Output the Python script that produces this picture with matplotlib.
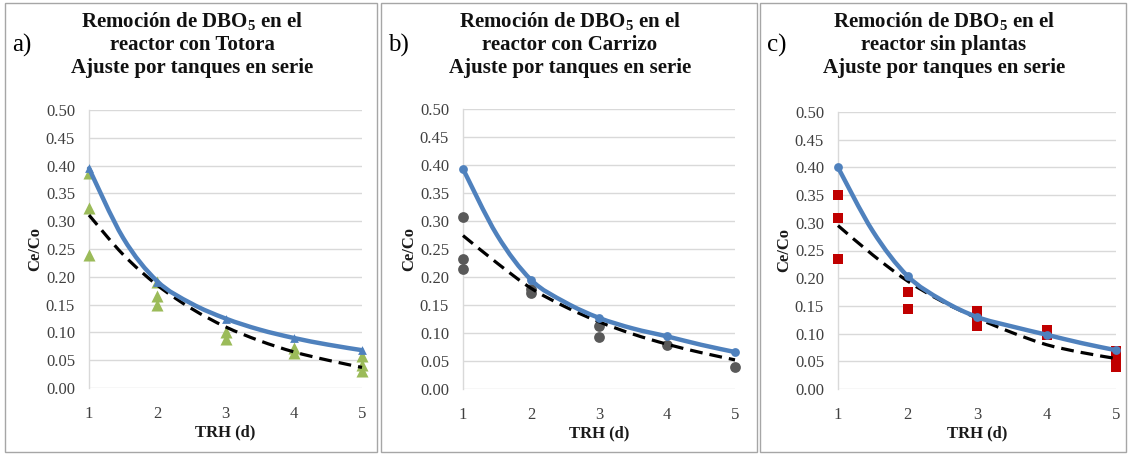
import matplotlib
matplotlib.use("Agg")
import matplotlib.pyplot as plt
from matplotlib.path import Path
from matplotlib.patches import PathPatch, Rectangle
import numpy as np

plt.rcParams['font.family'] = ['Liberation Serif', 'DejaVu Serif']
plt.rcParams['mathtext.fontset'] = 'custom'
plt.rcParams['mathtext.rm'] = 'Liberation Serif:bold'
plt.rcParams['mathtext.bf'] = 'Liberation Serif:bold'

# ---------------- data ----------------
trh = [1, 2, 3, 4, 5]
y_ticks = [0.00, 0.05, 0.10, 0.15, 0.20, 0.25, 0.30, 0.35, 0.40, 0.45, 0.50]

panel_letters = ["a)", "b)", "c)"]
titles = [
    ["Remoción de DBO$_{5}$ en el", "reactor con Totora", "Ajuste por tanques en serie"],
    ["Remoción de DBO$_{5}$ en el", "reactor con Carrizo", "Ajuste por tanques en serie"],
    ["Remoción de DBO$_{5}$ en el", "reactor sin plantas", "Ajuste por tanques en serie"],
]

# fitted model (solid blue) markers at each TRH
model_totora = [0.395, 0.190, 0.125, 0.090, 0.068]
model_carrizo = [0.393, 0.195, 0.127, 0.094, 0.066]
model_sin = [0.400, 0.204, 0.130, 0.098, 0.070]

# curves at half-day steps
curve_x = [1, 1.5, 2, 2.5, 3, 3.5, 4, 4.5, 5]
blue_totora = [0.395, 0.270, 0.192, 0.152, 0.125, 0.105, 0.090, 0.078, 0.068]
blue_carrizo = [0.393, 0.275, 0.195, 0.155, 0.127, 0.108, 0.094, 0.079, 0.066]
blue_sin = [0.400, 0.285, 0.204, 0.160, 0.130, 0.113, 0.098, 0.083, 0.070]

dashed_totora = [0.311, 0.240, 0.185, 0.143, 0.110, 0.085, 0.065, 0.050, 0.037]
dashed_carrizo = [0.274, 0.225, 0.180, 0.147, 0.120, 0.098, 0.080, 0.065, 0.052]
dashed_sin = [0.295, 0.242, 0.195, 0.158, 0.128, 0.102, 0.080, 0.066, 0.055]

# observed points
obs_totora_x = [1, 1, 1, 2, 2, 2, 3, 3, 4, 4, 5, 5, 5]
obs_totora_y = [0.387, 0.324, 0.240, 0.190, 0.165, 0.150, 0.100, 0.088, 0.072, 0.063, 0.058, 0.042, 0.030]

obs_carrizo_x = [1, 1, 1, 2, 2, 3, 3, 4, 5]
obs_carrizo_y = [0.308, 0.232, 0.214, 0.178, 0.172, 0.113, 0.093, 0.078, 0.040]

obs_sin_x = [1, 1, 1, 2, 2, 3, 3, 3, 4, 4, 5, 5, 5]
obs_sin_y = [0.351, 0.309, 0.235, 0.175, 0.145, 0.140, 0.122, 0.113, 0.107, 0.097, 0.068, 0.055, 0.040]

models = [model_totora, model_carrizo, model_sin]
blues = [blue_totora, blue_carrizo, blue_sin]
dashes = [dashed_totora, dashed_carrizo, dashed_sin]
obs_x = [obs_totora_x, obs_carrizo_x, obs_sin_x]
obs_y = [obs_totora_y, obs_carrizo_y, obs_sin_y]
obs_markers = ['^', 'o', 's']
obs_colors = ['#9BBB59', '#595959', '#C00000']
model_markers = ['^', 'o', 'o']

# ---------------- layout ----------------
W, H = 1128, 455
fig = plt.figure(figsize=(W / 100, H / 100), dpi=100)

axes_px = [  # left, right, top, bottom in pixels
    (89, 362, 110, 388),
    (463, 735, 109, 389),
    (838, 1116, 112, 389),
]
border_px = [(5, 377), (381, 757), (760, 1126)]

BLUE = '#4F81BD'


def smooth_path(xs, ys):
    """Excel-like smoothed line: cubic Bezier segments through the points."""
    pts = np.column_stack([xs, ys]).astype(float)
    n = len(pts)
    verts = [pts[0]]
    codes = [Path.MOVETO]
    for i in range(n - 1):
        p0 = pts[i - 1] if i > 0 else pts[i]
        p1 = pts[i]
        p2 = pts[i + 1]
        p3 = pts[i + 2] if i + 2 < n else pts[i + 1]
        c1 = p1 + (p2 - p0) / 6.0
        c2 = p2 - (p3 - p1) / 6.0
        verts += [c1, c2, p2]
        codes += [Path.CURVE4] * 3
    return Path(verts, codes)


for k in range(3):
    bl, br = border_px[k]
    fig.patches.append(Rectangle((bl / W, 1 - 452 / H), (br - bl) / W, (452 - 3) / H,
                                 transform=fig.transFigure, fill=False,
                                 edgecolor='#A6A6A6', linewidth=1.0))
    l, r, t, b = axes_px[k]
    ax = fig.add_axes([l / W, 1 - b / H, (r - l) / W, (b - t) / H])
    ax.set_xlim(1, 5)
    ax.set_ylim(0, 0.5)
    ax.set_yticks(y_ticks)
    ax.set_yticklabels([f"{v:.2f}" for v in y_ticks])
    ax.set_xticks(trh)
    ax.set_xticklabels([str(v) for v in trh])
    ax.grid(axis='y', color='#D9D9D9', linewidth=1.0)
    ax.set_axisbelow(True)
    for s in ['top', 'right', 'bottom']:
        ax.spines[s].set_visible(False)
    ax.spines['left'].set_color('#D9D9D9')
    ax.spines['left'].set_linewidth(1.0)
    ax.tick_params(axis='both', length=0, labelsize=12, labelcolor='#404040')
    ax.tick_params(axis='y', pad=10)
    ax.tick_params(axis='x', pad=13)

    # observations
    ax.scatter(obs_x[k], obs_y[k], marker=obs_markers[k], s=75 if k == 0 else 60,
               color=obs_colors[k], zorder=3, clip_on=False, linewidths=0)
    # dashed curve
    pd = smooth_path(curve_x, dashes[k])
    ax.add_patch(PathPatch(pd, fill=False, edgecolor='black', linewidth=2.3,
                           linestyle=(0, (4, 2.2)), zorder=4, clip_on=False))
    # model curve
    pm = smooth_path(curve_x, blues[k])
    ax.add_patch(PathPatch(pm, fill=False, edgecolor=BLUE, linewidth=3.2,
                           zorder=5, clip_on=False, capstyle='round'))
    ax.scatter(trh, models[k], marker=model_markers[k], s=40, color=BLUE,
               zorder=6, clip_on=False, linewidths=0)

    ax.set_ylabel("Ce/Co", fontsize=12, fontweight='bold', labelpad=2, color='#1a1a1a')
    ax.set_xlabel("TRH (d)", fontsize=12, fontweight='bold', labelpad=2, color='#1a1a1a')

    # title lines
    cx = (bl + br) / 2 + 1
    for j, line in enumerate(titles[k]):
        fig.text(cx / W, 1 - (22 + 23 * j) / H, line, ha='center', va='center',
                 fontsize=15, fontweight='bold', color='#111111')
    fig.text((bl + 7) / W, 1 - 45 / H, panel_letters[k], ha='left', va='center',
             fontsize=18, color='black')

fig.savefig("out.png", dpi=100)
